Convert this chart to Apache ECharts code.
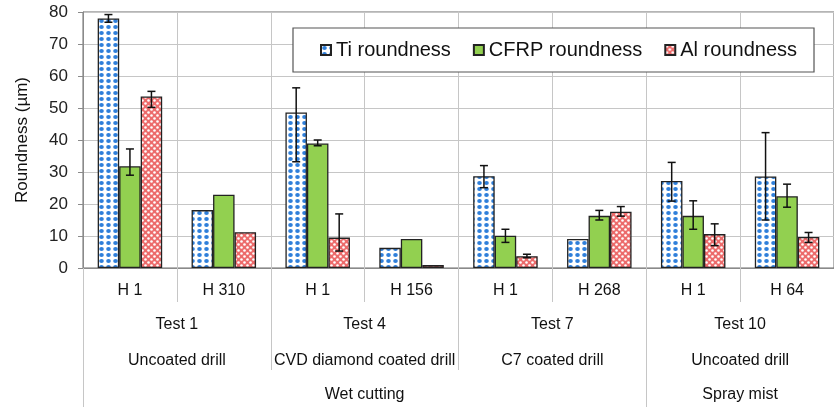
<!DOCTYPE html>
<html>
<head>
<meta charset="utf-8">
<script src="https://cdn.jsdelivr.net/npm/echarts@6/dist/echarts.min.js"></script>
<style>
html,body{margin:0;padding:0;background:#fff;}
#chart{width:834px;height:407px;}
</style>
</head>
<body>
<div id="chart"></div>
<script>
// ---- data ----
const categories = ['H 1', 'H 310', 'H 1', 'H 156', 'H 1', 'H 268', 'H 1', 'H 64'];
const testLabels = ['Test 1', 'Test 4', 'Test 7', 'Test 10'];
const drillLabels = ['Uncoated drill', 'CVD diamond coated drill', 'C7 coated drill', 'Uncoated drill'];
const conditionLabels = ['Wet cutting', 'Spray mist'];
const conditionSpans = [6, 2];
const yTicks = [0, 10, 20, 30, 40, 50, 60, 70, 80];

const seriesNames = ['Ti roundness', 'CFRP roundness', 'Al roundness'];
const tiValues   = [78.0, 18.1, 48.6, 6.3, 28.7, 9.1, 27.2, 28.6];
const cfrpValues = [31.8, 22.9, 38.9, 9.1, 10.1, 16.3, 16.3, 22.4];
const alValues   = [53.6, 11.2, 9.5, 0.9, 3.7, 17.6, 10.6, 9.7];

// error bar ends (low, high), null where no error bar
const tiErrLow    = [76.8, null, 33.2, null, 25.1, null, 20.9, 15.0];
const tiErrHigh   = [79.2, null, 56.3, null, 32.0, null, 33.0, 42.3];
const cfrpErrLow  = [29.0, null, 38.2, null, 8.0, 15.0, 12.1, 19.0];
const cfrpErrHigh = [37.2, null, 40.0, null, 12.1, 18.0, 21.0, 26.2];
const alErrLow    = [50.2, null, 5.3, null, 3.2, 16.2, 7.0, 8.0];
const alErrHigh   = [55.2, null, 16.9, null, 4.3, 19.2, 13.8, 11.1];

// ---- patterns ----
function makeTi() {
  const c = document.createElement('canvas'); c.width = 7; c.height = 6;
  const g = c.getContext('2d');
  g.fillStyle = '#ffffff'; g.fillRect(0, 0, 7, 6);
  g.fillStyle = '#2f7fda';
  g.beginPath(); g.ellipse(3.5, 3, 2.3, 2.1, 0, 0, Math.PI * 2); g.fill();
  return c;
}
function makeAl() {
  const c = document.createElement('canvas'); c.width = 6; c.height = 6;
  const g = c.getContext('2d');
  g.fillStyle = '#ec6b6b'; g.fillRect(0, 0, 6, 6);
  g.fillStyle = '#ffffff';
  g.beginPath(); g.arc(1.5, 1.5, 1.3, 0, Math.PI * 2); g.fill();
  g.beginPath(); g.arc(4.5, 4.5, 1.3, 0, Math.PI * 2); g.fill();
  return c;
}
const tiFill = { image: makeTi(), repeat: 'repeat' };
const alFill = { image: makeAl(), repeat: 'repeat' };
const cfrpFill = '#92d050';

const BAR_W = 21.5;
const FONT = '"Liberation Sans", Arial, sans-serif';

function errData(lo, hi) {
  const out = [];
  lo.forEach((v, i) => { if (v != null) out.push([i, v, hi[i]]); });
  return out;
}
function errSeries(lo, hi, idx) {
  return {
    type: 'custom',
    name: 'err' + idx,
    xAxisIndex: 0,
    yAxisIndex: 0,
    z: 5,
    silent: true,
    data: errData(lo, hi),
    encode: { x: 0, y: [1, 2] },
    renderItem: function (params, api) {
      const x = api.value(0);
      const pLo = api.coord([x, api.value(1)]);
      const pHi = api.coord([x, api.value(2)]);
      const cx = pLo[0] + (idx - 1) * BAR_W;
      const cap = 4;
      const st = { stroke: '#111', lineWidth: 1.5 };
      return {
        type: 'group',
        children: [
          { type: 'line', shape: { x1: cx, y1: pLo[1], x2: cx, y2: pHi[1] }, style: st },
          { type: 'line', shape: { x1: cx - cap, y1: pLo[1], x2: cx + cap, y2: pLo[1] }, style: st },
          { type: 'line', shape: { x1: cx - cap, y1: pHi[1], x2: cx + cap, y2: pHi[1] }, style: st }
        ]
      };
    }
  };
}

// condition axis (value axis in category units)
const totalCats = categories.length;
const condBounds = [0];
const condCenters = [];
let acc = 0;
conditionSpans.forEach(s => { condCenters.push(acc + s / 2); acc += s; condBounds.push(acc); });

const chart = echarts.init(document.getElementById('chart'), null, { renderer: 'canvas' });
const gridLine = '#c6c6c6';
const option = {
  animation: false,
  backgroundColor: '#ffffff',
  textStyle: { fontFamily: FONT },
  grid: { left: 83, top: 12, right: -8, bottom: 139, show: true, borderColor: '#6a6a6a', borderWidth: 1, containLabel: false },
  legend: {
    data: seriesNames,
    left: 293, top: 28,
    padding: [12, 17, 12, 27],
    itemGap: 22,
    itemWidth: 10, itemHeight: 10,
    icon: 'rect',
    backgroundColor: '#ffffff',
    borderColor: '#555', borderWidth: 1.2,
    textStyle: { fontSize: 20, color: '#111', fontFamily: FONT }
  },
  xAxis: [
    {
      type: 'category', data: categories, position: 'bottom', gridIndex: 0,
      axisLine: { show: true, lineStyle: { color: '#8a8a8a', width: 1 } },
      axisTick: { show: true, interval: 0, length: 34, lineStyle: { color: gridLine } },
      axisLabel: { interval: 0, margin: 13, fontSize: 16, lineHeight: 20, color: '#111', fontFamily: FONT },
      splitLine: { show: true, interval: 0, lineStyle: { color: gridLine } }
    },
    {
      type: 'category', data: testLabels, position: 'bottom', gridIndex: 0,
      axisLine: { show: false },
      axisTick: { show: true, interval: 0, length: 102, lineStyle: { color: gridLine } },
      axisLabel: {
        interval: 0, margin: 39, fontSize: 16, lineHeight: 36, color: '#111', fontFamily: FONT,
        formatter: function (v, i) { return v + '\n' + drillLabels[i]; }
      },
      splitLine: { show: false }
    },
    {
      type: 'value', min: 0, max: totalCats, position: 'bottom', gridIndex: 0,
      axisLine: { show: false },
      axisTick: { show: true, customValues: condBounds, length: 139, lineStyle: { color: gridLine } },
      axisLabel: {
        customValues: condCenters, margin: 117, fontSize: 16, lineHeight: 20, color: '#111', fontFamily: FONT,
        formatter: function (v) { const k = condCenters.indexOf(v); return k >= 0 ? conditionLabels[k] : ''; }
      },
      splitLine: { show: false }
    }
  ],
  yAxis: {
    type: 'value', min: 0, max: 80, interval: 10,
    name: 'Roundness (µm)', nameLocation: 'middle', nameGap: 52,
    nameTextStyle: { fontSize: 17, color: '#111', fontFamily: FONT },
    axisLine: { show: true, lineStyle: { color: '#8a8a8a' } },
    axisTick: { show: true, length: 5, lineStyle: { color: '#8a8a8a' } },
    axisLabel: { margin: 15, fontSize: 17, color: '#222', fontFamily: FONT,
      customValues: yTicks },
    splitLine: { show: true, lineStyle: { color: gridLine } }
  },
  series: [
    { type: 'bar', name: seriesNames[0], data: tiValues, barWidth: BAR_W, barGap: '0%',
      itemStyle: { color: tiFill, borderColor: '#222', borderWidth: 1.3 } },
    { type: 'bar', name: seriesNames[1], data: cfrpValues, barWidth: BAR_W, barGap: '0%',
      itemStyle: { color: cfrpFill, borderColor: '#222', borderWidth: 1.3 } },
    { type: 'bar', name: seriesNames[2], data: alValues, barWidth: BAR_W, barGap: '0%',
      itemStyle: { color: alFill, borderColor: '#222', borderWidth: 1.3 } },
    errSeries(tiErrLow, tiErrHigh, 0),
    errSeries(cfrpErrLow, cfrpErrHigh, 1),
    errSeries(alErrLow, alErrHigh, 2)
  ]
};
chart.setOption(option);
</script>
</body>
</html>
